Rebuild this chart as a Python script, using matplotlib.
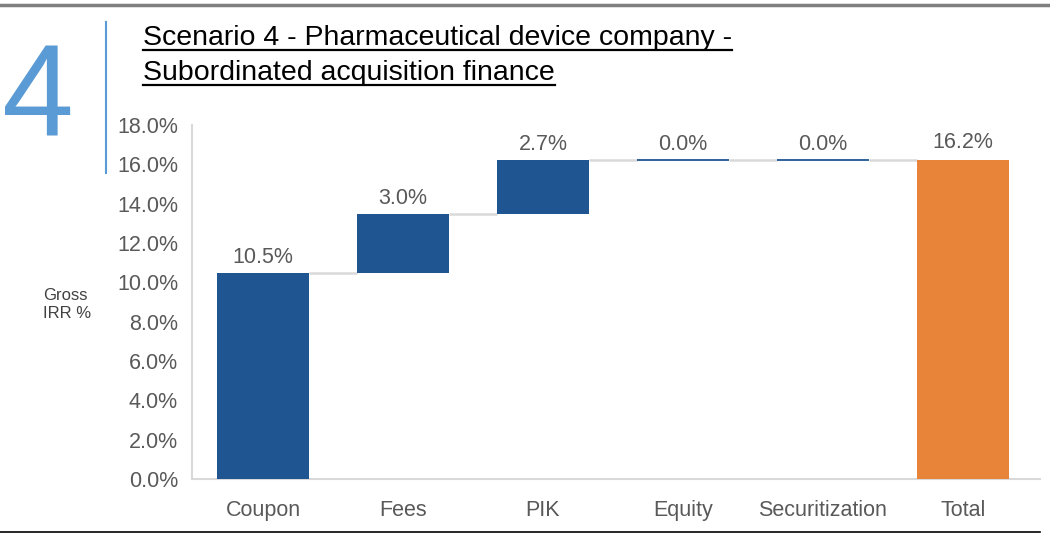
import matplotlib
matplotlib.use("Agg")
import matplotlib.pyplot as plt
from matplotlib.lines import Line2D

plt.rcParams['font.family'] = ['Liberation Sans', 'DejaVu Sans']

categories = ["Coupon", "Fees", "PIK", "Equity", "Securitization", "Total"]
increments = [10.5, 3.0, 2.7, 0.0, 0.0]
total_value = 16.2
yticks = [0, 2, 4, 6, 8, 10, 12, 14, 16, 18]

blue = "#1F5591"
orange = "#E8833A"
gray_txt = "#595959"

W, H = 1050, 550
fig = plt.figure(figsize=(W / 100, H / 100), dpi=100)
ax = fig.add_axes([192 / W, 1 - 479 / H, (1040 - 192) / W, (479 - 125) / H])

bw = 0.657
bottoms = []
cum = 0.0
for v in increments:
    bottoms.append(cum)
    cum += v
xs = list(range(len(categories)))

for i, v in enumerate(increments):
    if v > 0:
        ax.bar(i, v, bottom=bottoms[i], width=bw, color=blue, zorder=3)
    else:
        ax.plot([i - bw / 2, i + bw / 2], [bottoms[i], bottoms[i]], color=blue, lw=1.3, zorder=3,
                solid_capstyle='butt')
    ax.text(i, bottoms[i] + v + 0.25, f"{v:.1f}%", ha='center', va='bottom', fontsize=15.5, color=gray_txt)

ti = len(categories) - 1
ax.bar(ti, total_value, width=bw, color=orange, zorder=3)
ax.text(ti, total_value + 0.4, f"{total_value:.1f}%", ha='center', va='bottom', fontsize=15.5, color=gray_txt)

# connectors
levels = [bottoms[i] + increments[i] for i in range(len(increments))]
for i in range(len(increments)):
    ax.plot([i + bw / 2, i + 1 - bw / 2], [levels[i], levels[i]], color="#D9D9D9", lw=1.8, zorder=2,
            solid_capstyle='butt')

ax.set_xlim(-0.507, 5.55)
ax.set_ylim(0, 18)
ax.set_yticks(yticks)
ax.set_yticklabels([f"{t:.1f}%" for t in yticks], fontsize=15.5, color=gray_txt)
ax.set_xticks(xs)
ax.set_xticklabels(categories, fontsize=15.5, color=gray_txt)
ax.tick_params(axis='y', length=0, pad=10)
ax.tick_params(axis='x', length=0, pad=15)
for s in ['top', 'right']:
    ax.spines[s].set_visible(False)
for s in ['left', 'bottom']:
    ax.spines[s].set_color("#D9D9D9")
    ax.spines[s].set_linewidth(1.5)

# side label
fig.text(43 / W, 1 - 288 / H, "Gross\nIRR %", fontsize=12, color="#404040", ha='left', va='top',
         linespacing=1.25)

# big number and divider
fig.text(2 / W, 1 - 135 / H, "4", fontsize=93, color="#5B9BD5", ha='left', va='baseline')
fig.add_artist(Line2D([106 / W, 106 / W], [1 - 22 / H, 1 - 173 / H], color="#5B9BD5", lw=1.5))

# title with underline
t1 = fig.text(143 / W, 1 - 45 / H, "Scenario 4 - Pharmaceutical device company -", fontsize=20.5,
              color="black", ha='left', va='baseline')
t2 = fig.text(143 / W, 1 - 80 / H, "Subordinated acquisition finance", fontsize=20.5,
              color="black", ha='left', va='baseline')
fig.canvas.draw()
r = fig.canvas.get_renderer()
for t, yb in [(t1, 45), (t2, 80)]:
    bb = t.get_window_extent(renderer=r)
    yl = 1 - (yb + 5) / H
    fig.add_artist(Line2D([bb.x0 / W, bb.x1 / W], [yl, yl], color="black", lw=1.6))

# frame lines
fig.add_artist(Line2D([0, 1], [1 - 5 / H, 1 - 5 / H], color="#7F7F7F", lw=2.5))
fig.add_artist(Line2D([0, 1040 / W], [1 - 532 / H, 1 - 532 / H], color="black", lw=1.2))

fig.savefig("out.png", dpi=100)
